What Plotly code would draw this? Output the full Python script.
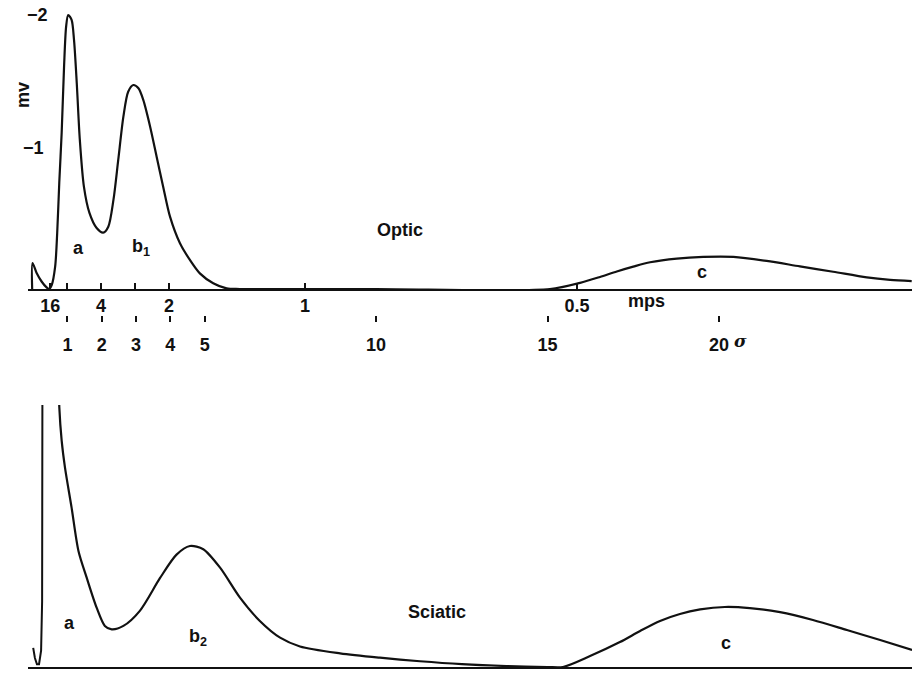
import plotly.graph_objects as go

# ---- data (time in ms, potential in mV; negative up) ----
optic_t = [-0.03, -0.02, 0.10, 0.25, 0.39, 0.46, 0.54, 0.64, 0.70, 0.76, 0.83, 0.90, 0.96, 1.02,
           1.12, 1.19, 1.27, 1.36, 1.48, 1.64, 1.85, 2.04, 2.19, 2.34, 2.48, 2.63, 2.77, 2.92,
           3.07, 3.21, 3.41, 3.60, 3.79, 3.99, 4.28, 4.57, 4.86, 5.25, 5.64, 6.03,
           10.0, 15.07, 15.95, 16.53, 17.02, 17.5, 17.99, 18.77, 19.54, 20.42, 21.39, 22.36,
           23.33, 24.31, 24.99, 25.62]
optic_v = [0.0, -0.19, -0.117, -0.053, -0.012, 0.0, -0.029, -0.163, -0.409, -0.774, -1.139, -1.623,
           -1.915, -2.0, -1.964, -1.818, -1.504, -1.088, -0.745, -0.555, -0.445, -0.411, -0.455,
           -0.650, -0.942, -1.258, -1.44, -1.489, -1.465, -1.380, -1.185, -0.966, -0.747, -0.528,
           -0.334, -0.212, -0.114, -0.042, -0.005, 0.0,
           0.0, 0.0, -0.045, -0.088, -0.128, -0.163, -0.195, -0.222, -0.234, -0.234, -0.205,
           -0.165, -0.126, -0.085, -0.067, -0.058]

sciatic_art_t = [0.0, 0.05, 0.11, 0.17, 0.23, 0.26, 0.27]
sciatic_art_v = [-0.14, -0.066, -0.02, -0.02, -0.12, -0.48, -2.3]

sciatic_t = [0.745, 0.762, 0.831, 0.927, 1.12, 1.32, 1.56, 1.85, 2.09, 2.29, 2.63, 3.11, 3.70,
             4.18, 4.57, 4.96, 5.45, 6.03, 6.61, 7.2, 7.78, 8.95, 10.11, 11.28, 12.5, 13.8,
             15.0, 15.45, 16.24, 17.11, 17.70, 18.28, 18.86, 19.45, 20.17, 20.9, 21.78, 22.74,
             23.73, 24.7, 25.63]
sciatic_v = [-2.1, -1.893, -1.650, -1.455, -1.163, -0.847, -0.652, -0.433, -0.30, -0.275, -0.30,
             -0.41, -0.65, -0.82, -0.883, -0.86, -0.725, -0.506, -0.336, -0.214, -0.15, -0.10,
             -0.068, -0.042, -0.021, -0.007, 0.0, 0.0, -0.080, -0.182, -0.263, -0.336, -0.387,
             -0.42, -0.438, -0.43, -0.40, -0.343, -0.27, -0.197, -0.124]

mps_ticks_t = [0.5, 0.99, 1.98, 2.97, 3.96, 7.93, 15.86]
mps_ticks_text = ["16", "", "4", "", "2", "1", "0.5"]
sigma_ticks = [1, 2, 3, 4, 5, 10, 15, 20]
sigma_text = ["1", "2", "3", "4", "5", "10", "15", "20"]

W, H = 916, 674
PX0, PXMS = 33.2, 34.29


def t_of(px):
    return (px - PX0) / PXMS


XL, XR = 28, 912
xrange_ = [t_of(XL), t_of(XR)]
FONT = dict(family="Liberation Sans, Arial, sans-serif", size=18, color="#111111", weight="bold")

fig = go.Figure()
line = dict(color="#111111", width=2.2, shape="spline", smoothing=0.8)
fig.add_trace(go.Scatter(x=optic_t, y=optic_v, mode="lines", line=line, xaxis="x", yaxis="y",
                         hoverinfo="skip", showlegend=False))
fig.add_trace(go.Scatter(x=[sigma_ticks[0]], y=[0], mode="markers", marker=dict(opacity=0),
                         xaxis="x3", yaxis="y", hoverinfo="skip", showlegend=False))
fig.add_trace(go.Scatter(x=sciatic_art_t, y=sciatic_art_v, mode="lines",
                         line=dict(color="#111111", width=2.0), xaxis="x2", yaxis="y2",
                         hoverinfo="skip", showlegend=False))
fig.add_trace(go.Scatter(x=sciatic_t, y=sciatic_v, mode="lines", line=line, xaxis="x2", yaxis="y2",
                         hoverinfo="skip", showlegend=False))

dom_x = [XL / W, XR / W]
fig.update_layout(
    width=W, height=H, margin=dict(l=0, r=0, t=0, b=0),
    paper_bgcolor="white", plot_bgcolor="white", showlegend=False,
    font=FONT,
    xaxis=dict(domain=dom_x, range=xrange_, anchor="y", showgrid=False, zeroline=False,
               showline=True, linecolor="#111111", linewidth=1.6,
               ticks="inside", ticklen=6, tickwidth=1.6, tickcolor="#111111",
               tickvals=mps_ticks_t, ticktext=mps_ticks_text, tickfont=FONT,
               ticklabelstandoff=0),
    yaxis=dict(domain=[1 - 289 / H, 1], range=[0, -289 / 137], showgrid=False, zeroline=False,
               showline=False, showticklabels=False, ticks=""),
    xaxis3=dict(overlaying="x", anchor="free", position=1 - 315 / H, range=xrange_,
                showgrid=False, zeroline=False, showline=False, side="bottom",
                ticks="outside", ticklen=6, tickwidth=1.8, tickcolor="#111111",
                tickvals=sigma_ticks, ticktext=sigma_text, tickfont=FONT, ticklabelstandoff=7),
    xaxis2=dict(domain=dom_x, range=xrange_, anchor="y2", showgrid=False, zeroline=False,
                showline=True, linecolor="#111111", linewidth=1.6, ticks="", showticklabels=False),
    yaxis2=dict(domain=[1 - 667 / H, 1 - 405 / H], range=[0, -262 / 137], showgrid=False,
                zeroline=False, showline=False, showticklabels=False, ticks=""),
)

ann = []


def txt(x, y, s, xref="x", yref="y", **kw):
    d = dict(x=x, y=y, text=s, xref=xref, yref=yref, showarrow=False, font=FONT)
    d.update(kw)
    ann.append(d)


txt(t_of(78), -(289 - 248) / 137, "a")
txt(t_of(141), -(289 - 247) / 137, "b<sub>1</sub>")
txt(t_of(400), -(289 - 230) / 137, "Optic")
txt(t_of(702), -(289 - 272) / 137, "c")
txt(t_of(646), 1 - 301 / H, "mps", yref="paper", yanchor="middle")
txt(t_of(740), 1 - 341 / H, "σ", xref="x", yref="paper", yanchor="middle",
    font=dict(family="DejaVu Serif, serif", size=17, color="#111111", style="italic"))
txt(50 / W, -2, "−2", xref="paper", xanchor="right")
txt(46 / W, -1.03, "−1", xref="paper", xanchor="right")
txt(11 / W, 1 - 80 / H, "mv", xref="paper", yref="paper", textangle=-90)

txt(t_of(69), -(667 - 623) / 137, "a", xref="x2", yref="y2")
txt(t_of(198), -(667 - 637) / 137, "b<sub>2</sub>", xref="x2", yref="y2")
txt(t_of(437), -(667 - 612) / 137, "Sciatic", xref="x2", yref="y2")
txt(t_of(726), -(667 - 643) / 137, "c", xref="x2", yref="y2")

fig.update_layout(annotations=ann)
fig.write_html("out.html")
